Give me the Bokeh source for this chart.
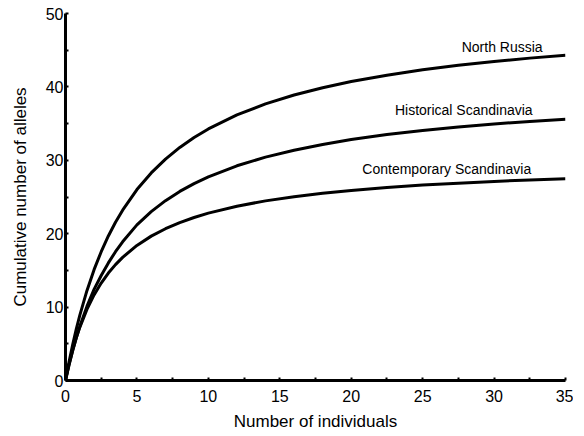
from bokeh.plotting import figure
from bokeh.models import FixedTicker, ColumnDataSource
from bokeh.core.properties import value
from bokeh.embed import file_html
from bokeh.resources import INLINE

# Data
individuals = [0, 0.25, 0.5, 0.75, 1, 1.5, 2, 2.5, 3, 3.5, 4, 5, 6, 7, 8, 9, 10,
               12, 14, 16, 18, 20, 22.5, 25, 27.5, 30, 32.5, 35]
north_russia = [0, 2.56, 4.87, 6.97, 8.88, 12.24, 15.10, 17.55, 19.69, 21.56, 23.21,
                26.01, 28.28, 30.16, 31.75, 33.10, 34.27, 36.18, 37.68, 38.90, 39.89,
                40.73, 41.60, 42.33, 42.94, 43.46, 43.92, 44.31]
historical_scand = [0, 2.13, 4.04, 5.77, 7.34, 10.09, 12.41, 14.30, 16.02, 17.55, 18.90,
                    21.20, 23.01, 24.50, 25.76, 26.83, 27.75, 29.25, 30.43, 31.38, 32.16,
                    32.82, 33.50, 34.06, 34.54, 34.94, 35.30, 35.60]
contemporary_scand = [0, 2.21, 4.12, 5.78, 7.24, 9.69, 11.66, 13.28, 14.64, 15.79, 16.78,
                      18.40, 19.67, 20.68, 21.52, 22.21, 22.80, 23.75, 24.47, 25.04, 25.51,
                      25.89, 26.29, 26.62, 26.89, 27.12, 27.32, 27.49]
series_names = ["North Russia", "Historical Scandinavia", "Contemporary Scandinavia"]

x_ticks = [0, 5, 10, 15, 20, 25, 30, 35]
x_minor = [2.5, 7.5, 12.5, 17.5, 22.5, 27.5, 32.5]
y_ticks = [0, 10, 20, 30, 40, 50]
y_minor = [5, 15, 25, 35, 45]

# label placement (right end of each label, in data units)
label_x = [33.4, 32.7, 32.6]
label_y = [45.45, 36.9, 28.8]

FONT = "Liberation Sans"

p = figure(frame_width=500, frame_height=367,
           min_border_left=65, min_border_right=8, min_border_top=13, min_border_bottom=45,
           x_range=(0, 35), y_range=(0, 50),
           output_backend="svg", toolbar_location=None)

p.xgrid.visible = False
p.ygrid.visible = False
p.outline_line_color = None
p.background_fill_color = "white"
p.border_fill_color = "white"

for s in [north_russia, historical_scand, contemporary_scand]:
    p.line(individuals, s, line_color="black", line_width=3, line_join="round")

src = ColumnDataSource(dict(x=label_x, y=label_y, t=series_names))
p.text(x="x", y="y", text="t", source=src, text_align="right", text_baseline="middle",
       text_font=value(FONT), text_font_size="14px", text_color="black")

p.xaxis.ticker = FixedTicker(ticks=x_ticks, minor_ticks=x_minor)
p.yaxis.ticker = FixedTicker(ticks=y_ticks, minor_ticks=y_minor)

for ax in [p.xaxis, p.yaxis]:
    ax.axis_line_width = 3
    ax.axis_line_color = "black"
    ax.major_tick_in = 3
    ax.major_tick_out = 0
    ax.minor_tick_in = 3
    ax.minor_tick_out = 0
    ax.major_tick_line_width = 2
    ax.minor_tick_line_width = 2
    ax.major_tick_line_color = "black"
    ax.minor_tick_line_color = "black"
    ax.major_label_text_font = FONT
    ax.major_label_text_font_size = "16px"
    ax.major_label_text_color = "black"
    ax.axis_label_text_font = FONT
    ax.axis_label_text_font_size = "17px"
    ax.axis_label_text_font_style = "normal"
    ax.axis_label_text_color = "black"

p.xaxis.axis_label = "Number of individuals"
p.yaxis.axis_label = "Cumulative number of alleles"
p.xaxis.major_label_standoff = 9
p.yaxis.major_label_standoff = 2
p.xaxis.axis_label_standoff = 7
p.yaxis.axis_label_standoff = 13

open("out.html", "w").write(file_html(p, INLINE))
